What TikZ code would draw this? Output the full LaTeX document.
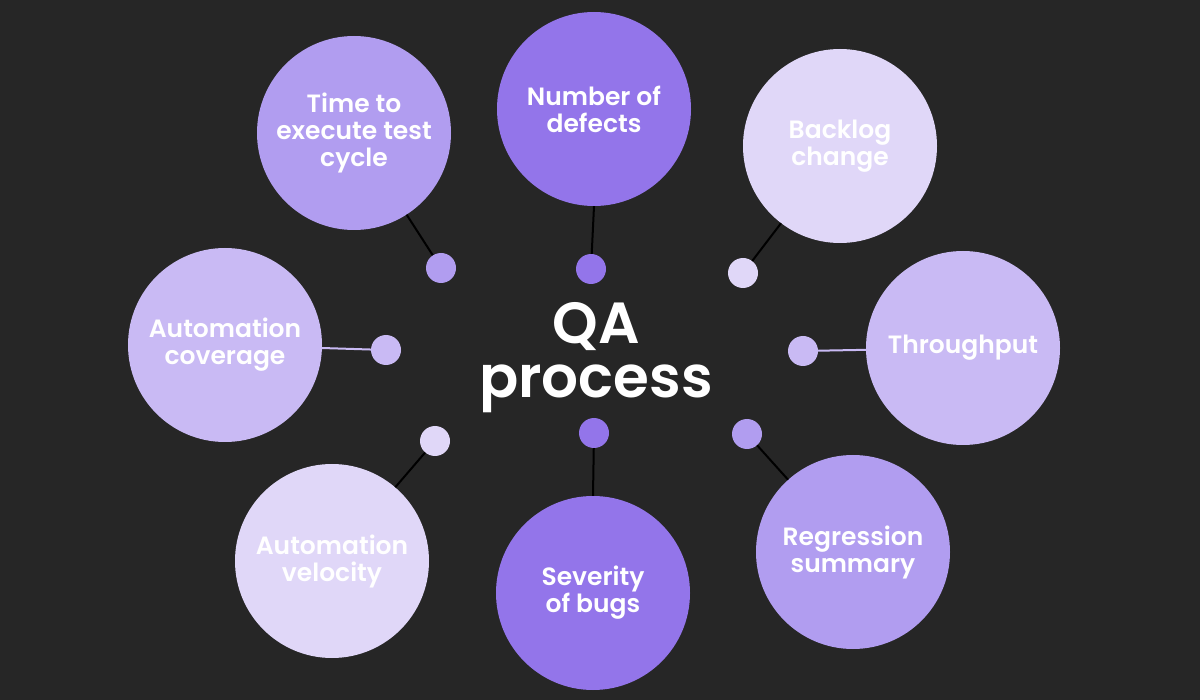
\documentclass[tikz,border=0pt]{standalone}
\usepackage{fontspec}
\setmainfont{Poppins}[BoldFont={* SemiBold}]
\usetikzlibrary{positioning}

\definecolor{bgdark}{HTML}{262626}
\definecolor{violetA}{HTML}{9375EA}
\definecolor{violetB}{HTML}{B19DF0}
\definecolor{violetC}{HTML}{C9BAF4}
\definecolor{violetD}{HTML}{E0D7F8}

\begin{document}
\begin{tikzpicture}[
    x=1pt, y=-1pt,
    bubble/.style={circle, inner sep=0pt, minimum size=194pt, align=center,
                   text=white, font=\fontsize{25}{27}\selectfont\bfseries},
    knob/.style={circle, inner sep=0pt, minimum size=30pt},
    link/.style={line width=2pt, black},
    hub/.style={text=white, align=center, font=\fontsize{58}{54}\selectfont\bfseries}
]

% ---- canvas ----
\fill[bgdark] (0,0) rectangle (1200,700);
\useasboundingbox (0,0) rectangle (1200,700);

% ---- centre label ----
\node[hub] (qa) at (596, 358) {QA\\process};

% ---- outer bubbles ----
\node[bubble, fill=violetB] (cycle)    at (354, 133) {Time to\\execute test\\cycle};
\node[bubble, fill=violetA] (defects)  at (594, 109) {Number of\\defects};
\node[bubble, fill=violetD] (backlog)  at (840, 146) {Backlog\\change};
\node[bubble, fill=violetC] (coverage) at (225, 345) {Automation\\coverage};
\node[bubble, fill=violetC] (through)  at (963, 348) {Throughput};
\node[bubble, fill=violetD] (velocity) at (332, 561) {Automation\\velocity};
\node[bubble, fill=violetA] (severity) at (593, 593) {Severity\\of bugs};
\node[bubble, fill=violetB] (regress)  at (853, 552) {Regression\\summary};

% ---- small dots ----
\node[knob, fill=violetB] (k1) at (441, 268) {};
\node[knob, fill=violetA] (k2) at (591, 269) {};
\node[knob, fill=violetD] (k3) at (743, 273) {};
\node[knob, fill=violetC] (k4) at (386, 350) {};
\node[knob, fill=violetC] (k5) at (803, 351) {};
\node[knob, fill=violetD] (k6) at (435, 441) {};
\node[knob, fill=violetA] (k7) at (594, 433) {};
\node[knob, fill=violetB] (k8) at (747, 434) {};

% ---- connectors ----
\draw[link] (cycle) -- (k1);
\draw[link] (defects.south) -- (k2);
\draw[link] (backlog) -- (k3);
\draw[link, violetC] (coverage) -- (k4);
\draw[link, violetC] (through) -- (k5);
\draw[link] (velocity) -- (k6);
\draw[link] (severity.north) -- (k7);
\draw[link] (regress) -- (k8);

\end{tikzpicture}
\end{document}
